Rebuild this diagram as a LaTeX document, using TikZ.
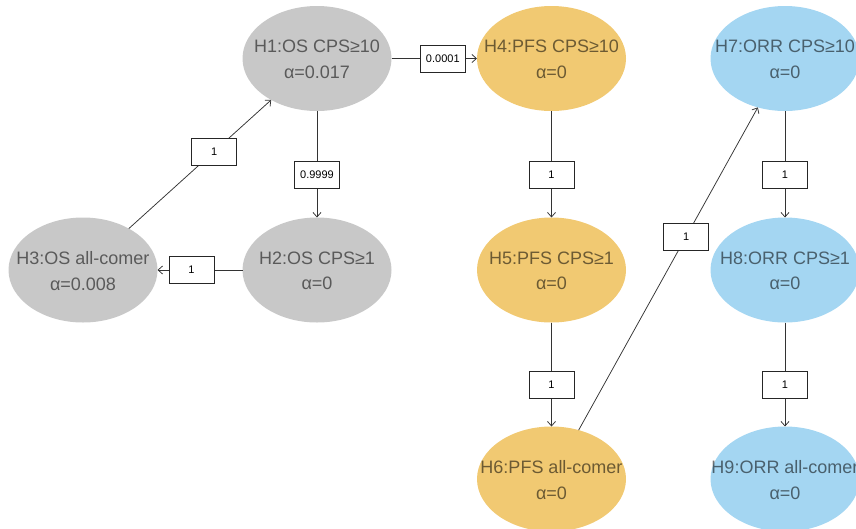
\documentclass[tikz,border=0pt]{standalone}
\usepackage{fontspec}
\setmainfont{Liberation Sans}
\usetikzlibrary{shapes.geometric,arrows.meta}
\definecolor{hgray}{HTML}{C8C8C8}
\definecolor{horange}{HTML}{F1C972}
\definecolor{hblue}{HTML}{A4D6F2}
\definecolor{edgecol}{HTML}{333333}
\tikzset{
 hyp/.style={ellipse, draw=none, minimum width=149pt, minimum height=105pt, inner sep=0pt, outer sep=0pt},
 hyptext/.style={align=center, font=\fontsize{18}{25.5}\selectfont, text=black, text opacity=0.55, inner sep=0pt, yshift=-1pt},
 link/.style={draw=edgecol, line width=0.75pt, -{Straight Barb[length=4.5pt,width=8pt]}},
 wt/.style={rectangle, draw=black!85, fill=white, line width=0.75pt, minimum width=45pt, minimum height=27pt, inner sep=0pt, font=\fontsize{11}{13}\selectfont, text=black, pos=0.6},
}
\begin{document}
\begin{tikzpicture}[x=1pt,y=-1pt]
\useasboundingbox (0,0) rectangle (856,528);
\clip (0,0) rectangle (856,528);
% nodes
\node[hyp, fill=hgray, label={[hyptext]center:{H1:OS CPS≥10\\α=0.017}}] (H1) at (317,58.5) {};
\node[hyp, fill=hgray, label={[hyptext]center:{H2:OS CPS≥1\\α=0}}] (H2) at (317,270) {};
\node[hyp, fill=hgray, label={[hyptext]center:{H3:OS all-comer\\α=0.008}}] (H3) at (83,270) {};
\node[hyp, fill=horange, label={[hyptext]center:{H4:PFS CPS≥10\\α=0}}] (H4) at (551.5,58.5) {};
\node[hyp, fill=horange, label={[hyptext]center:{H5:PFS CPS≥1\\α=0}}] (H5) at (551.5,270) {};
\node[hyp, fill=horange, label={[hyptext]center:{H6:PFS all-comer\\α=0}}] (H6) at (551.5,479) {};
\node[hyp, fill=hblue, label={[hyptext]center:{H7:ORR CPS≥10\\α=0}}] (H7) at (785,58.5) {};
\node[hyp, fill=hblue, label={[hyptext]center:{H8:ORR CPS≥1\\α=0}}] (H8) at (785,270) {};
\node[hyp, fill=hblue, label={[hyptext]center:{H9:ORR all-comer\\α=0}}] (H9) at (785,479) {};
% edges
\draw[link] (H1) -- node[wt] {0.0001} (H4);
\draw[link] (H1) -- node[wt] {0.9999} (H2);
\draw[link] (H2) -- node[wt] {1} (H3);
\draw[link] (H3) -- node[wt] {1} (H1);
\draw[link] (H4) -- node[wt] {1} (H5);
\draw[link] (H5) -- node[wt] {1} (H6);
\draw[link] (H6) -- node[wt] {1} (H7);
\draw[link] (H7) -- node[wt] {1} (H8);
\draw[link] (H8) -- node[wt] {1} (H9);
\end{tikzpicture}
\end{document}
